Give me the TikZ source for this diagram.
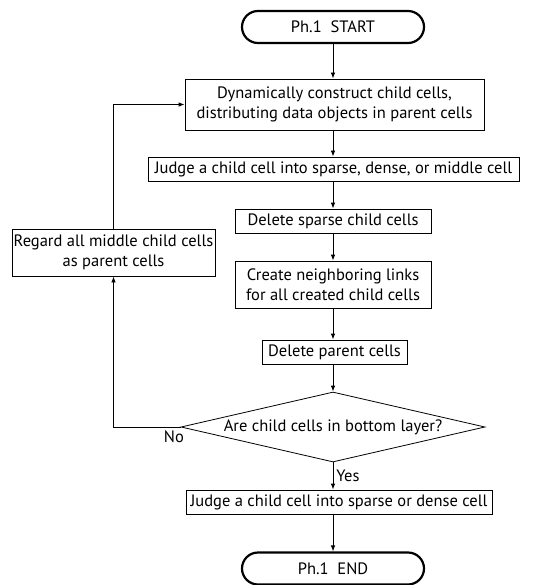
\documentclass[tikz,border=0pt]{standalone}
\usepackage{fontspec}
\setmainfont{PT Sans}
\usetikzlibrary{
  arrows.meta,
  shapes.geometric
}

\begin{document}
\begin{tikzpicture}[x=1pt,y=-1pt,>={Latex[length=6pt,width=4.5pt]},
  box/.style={draw,line width=0.8pt,align=center,inner sep=0pt,
              font=\fontsize{16.5}{20}\selectfont},
  term/.style={box,line width=2.2pt,rounded corners=16pt,
               minimum width=182pt,minimum height=32pt}]
  \useasboundingbox (0,0) rectangle (549,585);
  \node[term] (S) at (333,27) {Ph.1\ \ START};
  \node[box,minimum width=299pt,minimum height=51pt] (D) at (334.5,104.5)
    {Dynamically construct child cells,\\ distributing data objects in parent cells};
  \node[box,minimum width=371pt,minimum height=24pt] (J) at (333.5,169)
    {Judge a child cell into sparse, dense, or middle cell};
  \node[box,minimum width=196pt,minimum height=24pt] (X) at (333,221)
    {Delete sparse child cells};
  \node[box,minimum width=196pt,minimum height=47pt] (C) at (333,284.5)
    {Create neighboring links\\ for all created child cells};
  \node[box,minimum width=145pt,minimum height=24pt] (P) at (334.5,352)
    {Delete parent cells};
  \node[box,diamond,aspect=4.3,minimum width=304pt,minimum height=70pt] (Q) at (333,427)
    {Are child cells in bottom layer?};
  \node[box,minimum width=306pt,minimum height=24pt] (J2) at (339,502)
    {Judge a child cell into sparse or dense cell};
  \node[term] (E) at (333,568.5) {Ph.1\ \ END};
  \node[box,minimum width=203pt,minimum height=47pt] (R) at (113.5,252.5)
    {Regard all middle child cells\\ as parent cells};
  \foreach \u/\v in {S/D,D/J,J/X,X/C,C/P,P/Q,J2/E}
    \draw[line width=0.8pt,->] (\u.south -| S) -- (\v.north -| S);
  \draw[line width=0.8pt,->] (Q.south) -- node[right,inner sep=3pt,font=\fontsize{16.5}{20}\selectfont] {Yes} (J2.north -| Q);
  \draw[line width=0.8pt,->] (Q.west) -| node[pos=0.05,below,font=\fontsize{16.5}{20}\selectfont] {No} (R.south);
  \draw[line width=0.8pt,->] (R.north) |- (D.west);
\end{tikzpicture}
\end{document}
